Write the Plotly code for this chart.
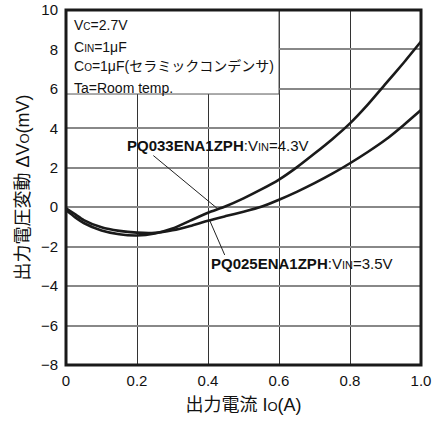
import plotly.graph_objects as go

# ---- data ----
current_a = [0, 0.025, 0.05, 0.1, 0.15, 0.2, 0.25, 0.3, 0.35, 0.4, 0.45, 0.5,
             0.55, 0.6, 0.65, 0.7, 0.75, 0.8, 0.85, 0.9, 0.95, 1.0]
dv_pq033 = [-0.15, -0.5, -0.8, -1.18, -1.37, -1.43, -1.33, -1.08, -0.68, -0.28, 0.05, 0.45,
            0.9, 1.4, 2.02, 2.72, 3.45, 4.25, 5.2, 6.25, 7.3, 8.4]
dv_pq025 = [-0.05, -0.35, -0.65, -1.02, -1.2, -1.29, -1.3, -1.17, -0.95, -0.68, -0.45, -0.23,
            0.02, 0.38, 0.78, 1.22, 1.7, 2.23, 2.8, 3.42, 4.15, 4.93]

x_ticks = [0, 0.2, 0.4, 0.6, 0.8, 1.0]
x_ticktext = ["0", "0.2", "0.4", "0.6", "0.8", "1.0"]
y_ticks = [-8, -6, -4, -2, 0, 2, 4, 6, 8, 10]

cond_lines = [
    "V<span style='font-size:10px'>C</span>=2.7V",
    "C<span style='font-size:10px'>IN</span>=1μF",
    "C<span style='font-size:10px'>O</span>=1μF(セラミックコンデンサ)",
    "Ta=Room temp.",
]
cond_y = [9.26, 8.1, 7.17, 6.05]

label_033 = "<b>PQ033ENA1ZPH</b>:V<span style='font-size:11px'>IN</span>=4.3V"
label_025 = "<b>PQ025ENA1ZPH</b>:V<span style='font-size:11px'>IN</span>=3.5V"

FONT = "Liberation Sans, Arial, Noto Sans CJK JP, sans-serif"

fig = go.Figure()
for yv in (dv_pq033, dv_pq025):
    fig.add_trace(go.Scatter(x=current_a, y=yv, mode="lines",
                             line=dict(color="#1a1a1a", width=2.6, shape="spline", smoothing=0.6),
                             showlegend=False, hoverinfo="skip"))

# conditions box
fig.add_shape(type="rect", x0=0, x1=0.6, y0=5.74, y1=10, xref="x", yref="y",
              fillcolor="white", line=dict(color="#555", width=1), layer="above")
for t, yy in zip(cond_lines, cond_y):
    fig.add_annotation(x=0.017, y=yy, text=t, showarrow=False, xanchor="left", yanchor="middle",
                       font=dict(size=14, color="#111", family=FONT))

# pointer lines
fig.add_shape(type="line", x0=0.246, y0=2.62, x1=0.43, y1=-0.12, line=dict(color="#222", width=1))
fig.add_shape(type="line", x0=0.447, y0=-2.42, x1=0.405, y1=-0.68, line=dict(color="#222", width=1))

fig.add_annotation(x=0.428, y=3.15, text=label_033, showarrow=False, xanchor="center", yanchor="middle",
                   font=dict(size=15, color="#111", family=FONT))
fig.add_annotation(x=0.664, y=-2.86, text=label_025, showarrow=False, xanchor="center", yanchor="middle",
                   font=dict(size=15, color="#111", family=FONT))

# frame
fig.add_shape(type="rect", x0=0, x1=1, y0=0, y1=1, xref="paper", yref="paper",
              line=dict(color="#1a1a1a", width=3), layer="above")

fig.update_xaxes(range=[0, 1], tickvals=x_ticks, ticktext=x_ticktext,
                 showgrid=True, gridcolor="#333", gridwidth=1, zeroline=False,
                 showline=False, ticks="", automargin=False, ticklabelstandoff=5,
                 tickfont=dict(size=15, color="#111", family=FONT),
                 title=dict(text="出力電流 I<span style='font-size:13px'>O</span>(A)",
                            font=dict(size=18, color="#111", family=FONT), standoff=10))
fig.update_yaxes(range=[-8, 10], tickvals=y_ticks,
                 showgrid=True, gridcolor="#888", gridwidth=1.5, zeroline=False,
                 showline=False, ticks="", automargin=False, ticklabelstandoff=7,
                 tickfont=dict(size=15, color="#111", family=FONT),
                 title=dict(text="出力電圧変動 ΔV<span style='font-size:13px'>O</span>(mV)",
                            font=dict(size=18, color="#111", family=FONT), standoff=6))

fig.update_layout(width=432, height=423, margin=dict(l=66, r=11, t=10, b=58),
                  plot_bgcolor="white", paper_bgcolor="white")

fig.write_html("out.html")
